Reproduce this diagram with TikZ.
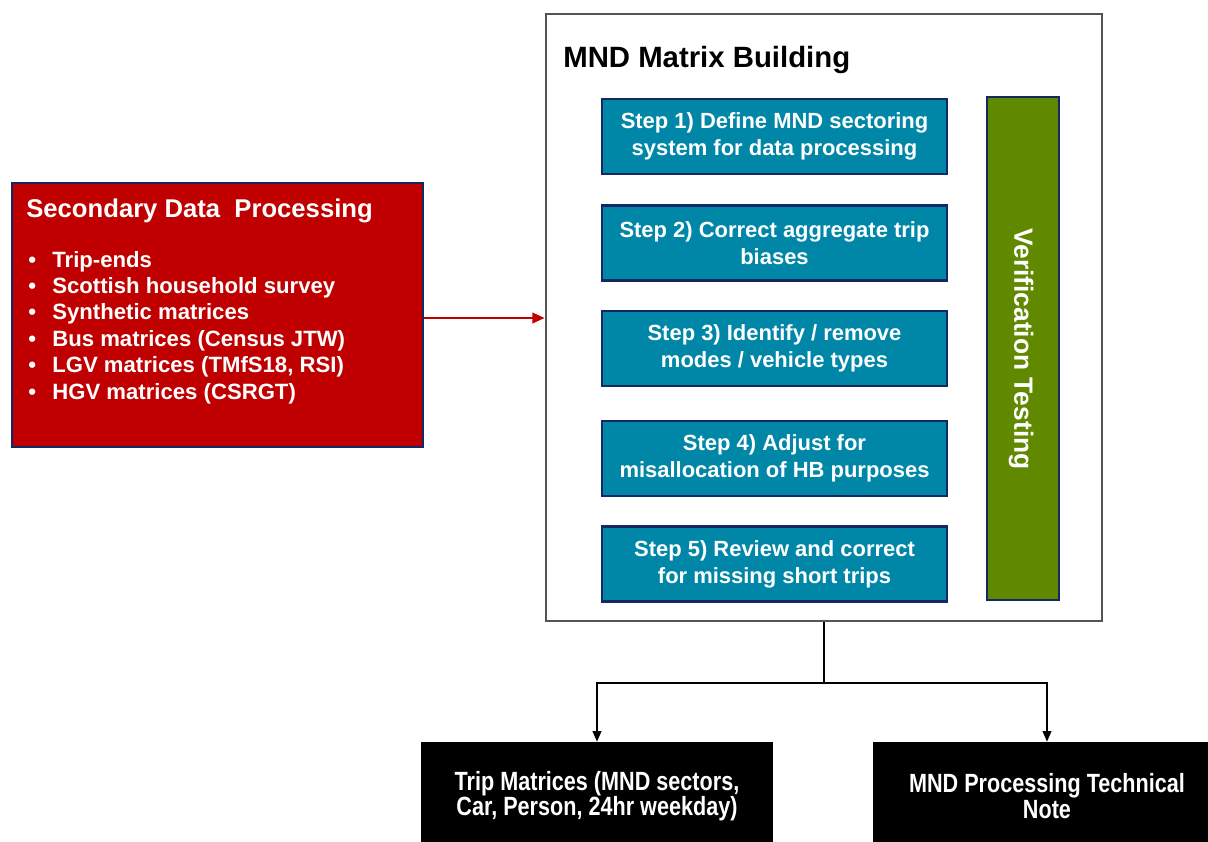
\documentclass[tikz,border=0pt]{standalone}
\usepackage{fontspec}
\setmainfont{Liberation Sans}
\newfontfamily\narrowfont[FakeStretch=0.82]{Liberation Sans}
\usetikzlibrary{arrows.meta}
\definecolor{sdpred}{RGB}{192,0,0}
\definecolor{navyline}{RGB}{20,40,100}
\definecolor{stepteal}{RGB}{0,135,168}
\definecolor{vtgreen}{RGB}{96,137,0}
\definecolor{boxgray}{RGB}{85,85,85}
\begin{document}
\begin{tikzpicture}[x=0.02cm,y=-0.02cm,
  stepbox/.style={draw=navyline,line width=1.3pt,fill=stepteal,minimum width=6.9cm,minimum height=1.5cm,
    text=white,font=\fontsize{12.5}{15.3}\selectfont\bfseries,align=center,inner sep=0pt},
  outbox/.style={fill=black,minimum height=2.16cm,inner sep=0pt,text=white,
    font=\narrowfont\fontsize{15}{14.5}\selectfont\bfseries,align=center},
  bullet/.style={anchor=base west,text=white,inner sep=0pt,font=\fontsize{12.6}{15}\selectfont\bfseries},
  conn/.style={draw=black,line width=0.8pt,-{Triangle[length=6pt,width=5pt]}}]
\useasboundingbox (0,0) rectangle (1208,842);
\fill[white] (0,0) rectangle (1208,842);

% Secondary data processing
\node[draw=navyline,line width=1.2pt,fill=sdpred,minimum width=8.22cm,minimum height=5.28cm,inner sep=0pt] (sdp) at (217.5,315) {};
\node[anchor=base west,text=white,inner sep=0pt,font=\fontsize{14.6}{17}\selectfont\bfseries] (sdpt) at (26,217) {Secondary Data\ \ Processing};
\node[bullet] (b1) at (28,267) {\makebox[0.48cm][l]{•}Trip-ends};
\node[bullet] (b2) at (28,293) {\makebox[0.48cm][l]{•}Scottish household survey};
\node[bullet] (b3) at (28,319) {\makebox[0.48cm][l]{•}Synthetic matrices};
\node[bullet] (b4) at (28,346) {\makebox[0.48cm][l]{•}Bus matrices (Census JTW)};
\node[bullet] (b5) at (28,372) {\makebox[0.48cm][l]{•}LGV matrices (TMfS18, RSI)};
\node[bullet] (b6) at (28,399) {\makebox[0.48cm][l]{•}HGV matrices (CSRGT)};

% MND Matrix Building
\node[draw=boxgray,line width=1.6pt,fill=white,minimum width=11.12cm,minimum height=12.14cm,inner sep=0pt] (mnd) at (824,317.5) {};
\node[anchor=base west,inner sep=0pt,font=\fontsize{16.7}{20}\selectfont\bfseries] (mndt) at (563,67) {MND Matrix Building};

\node[stepbox] (s1) at (774.5,136.5) {Step 1) Define MND sectoring\\system for data processing};
\node[stepbox] (s2) at (774.5,243) {Step 2) Correct aggregate trip\\biases};
\node[stepbox] (s3) at (774.5,348.5) {Step 3) Identify / remove\\modes / vehicle types};
\node[stepbox] (s4) at (774.5,458.5) {Step 4) Adjust for\\misallocation of HB purposes};
\node[stepbox] (s5) at (774.5,564) {Step 5) Review and correct\\for missing short trips};

\node[draw=navyline,line width=1.3pt,fill=vtgreen,minimum width=1.44cm,minimum height=10.06cm,inner sep=0pt] (vt) at (1023,348.5) {};
\node[rotate=-90,text=white,inner sep=0pt,font=\fontsize{15}{18}\selectfont\bfseries] (vtt) at (1021,349) {Verification Testing};

% arrow from SDP
\draw[draw=sdpred,line width=1.2pt,-{Triangle[length=7pt,width=6pt]}] (sdp.east |- 0,318) -- (mnd.west |- 0,318);

% outputs
\node[outbox,minimum width=7.04cm] (o1) at (597,796) {Trip Matrices (MND sectors,\\Car, Person, 24hr weekday)};
\node[outbox,minimum width=6.96cm] (o2) at (1047,796) {MND Processing Technical\\Note};

\coordinate (j) at (824,683);
\draw[line width=0.8pt] (mnd.south) -- (j);
\draw[conn] (j) -| (o1.north);
\draw[conn] (j) -| (o2.north);
\end{tikzpicture}
\end{document}
